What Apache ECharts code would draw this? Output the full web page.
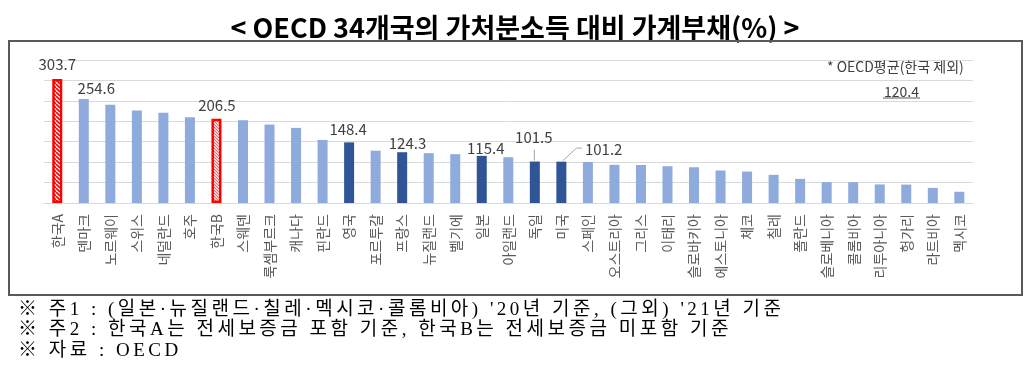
<!DOCTYPE html>
<html><head><meta charset="utf-8">
<script src="https://cdn.jsdelivr.net/npm/echarts@6/dist/echarts.min.js"></script>
<style>
html,body{margin:0;padding:0;background:#fff}
#wrap{position:relative;width:1030px;height:379px}
#c{position:absolute;left:0;top:0;width:1030px;height:379px}
.fn{position:absolute;left:18px;height:20px;line-height:20px;font-size:19px;color:#000;white-space:nowrap;
  font-family:"Liberation Serif","Noto Sans CJK KR",serif;letter-spacing:3.5px}
</style>
</head><body><div id="wrap"><div id="c"></div></div>
<script>
// ---- data ----
const categories = ['한국A','덴마크','노르웨이','스위스','네덜란드','호주','한국B','스웨덴','룩셈부르크','캐나다','핀란드','영국','포르투갈','프랑스','뉴질랜드','벨기에','일본','아일랜드','독일','미국','스페인','오스트리아','그리스','이태리','슬로바키아','에스토니아','체코','칠레','폴란드','슬로베니아','콜롬비아','리투아니아','헝가리','라트비아','멕시코'];
const values = [303.7,254.6,240.2,226.3,220.6,210.0,206.5,202.6,192.0,183.8,154.4,148.4,128.0,124.3,122.0,119.5,115.4,112.0,101.5,101.2,100.5,93.5,93.0,90.0,87.5,79.5,77.0,69.0,59.0,51.0,51.0,45.5,45.0,37.0,27.5];
const darkCategories = ['영국','프랑스','일본','독일','미국'];
const koreaIncl = '한국A';
const koreaExcl = '한국B';
const labelledCategories = ['한국A','덴마크','한국B','영국','프랑스','일본','독일','미국'];
const yMin = 0, yMax = 350, yStep = 50;
const titleText = '< OECD 34개국의 가처분소득 대비 가계부채(%) >';
const avgNote = '* OECD평균(한국 제외)';
const avgValue = '120.4';
const footnotes = [
  "※ 주1 : (일본·뉴질랜드·칠레·멕시코·콜롬비아) '20년 기준, (그외) '21년 기준",
  "※ 주2 : 한국A는 전세보증금 포함 기준, 한국B는 전세보증금 미포함 기준",
  "※ 자료 : OECD"
];

// ---- styles ----
const FONT = '"Noto Sans CJK KR", "Noto Sans", sans-serif';
const LIGHT = '#8FAADC', DARK = '#2F5597', RED = '#FF0000';
const labelOffsets = {
  '한국A':[0,-6], '덴마크':[12.5,-2], '한국B':[0.5,-4.6], '영국':[-1,-4.4],
  '프랑스':[5.3,0.5], '일본':[4,1.4], '독일':[-1,-15.2], '미국':[42.3,-3.3]
};
const footTops = [298.5, 319, 340];
function hatch(color, bg, size, lw){
  const c = document.createElement('canvas'); c.width = c.height = size;
  const g = c.getContext('2d'); g.fillStyle = bg; g.fillRect(0,0,size,size);
  g.strokeStyle = color; g.lineWidth = lw; g.beginPath();
  for (const x0 of [-size,0,size]) { g.moveTo(x0,0); g.lineTo(x0+size,size); }
  g.stroke(); return c;
}
const patA = hatch(RED,'#ffffff',4,1.7);
const patB = hatch('#f06c6c','#fbd3d3',3,1);

const data = categories.map((c,i)=>{
  const item = {value: values[i]};
  if (c === koreaIncl) item.itemStyle = {color:{image:patA,repeat:'repeat'}, borderColor:RED, borderWidth:2.5};
  else if (c === koreaExcl) item.itemStyle = {color:{image:patB,repeat:'repeat'}, borderColor:RED, borderWidth:2.5};
  else if (darkCategories.includes(c)) item.itemStyle = {color:DARK};
  if (labelledCategories.includes(c)) {
    item.label = {show:true, position:'top', distance:0, offset:labelOffsets[c]||[0,0]};
  }
  return item;
});

const chart = echarts.init(document.getElementById('c'));
chart.setOption({
  animation:false,
  textStyle:{fontFamily:FONT},
  title:{text:titleText, left:'center', top:9,
    textStyle:{fontFamily:FONT, fontSize:27, fontWeight:'bold', color:'#000', lineHeight:28}},
  grid:{left:44, right:57.4, top:60, bottom:176, containLabel:false},
  xAxis:{type:'category', data:categories,
    axisLine:{show:true, lineStyle:{color:'#d9d9d9'}}, axisTick:{show:false},
    axisLabel:{rotate:90, interval:0, margin:11, fontSize:14, color:'#595959', fontFamily:FONT}},
  yAxis:{type:'value', min:yMin, max:yMax, interval:yStep,
    axisLabel:{show:false}, axisLine:{show:false}, axisTick:{show:false},
    splitLine:{lineStyle:{color:'#d9d9d9', width:1}}},
  series:[{type:'bar', data:data, barWidth:10, itemStyle:{color:LIGHT},
    label:{show:false, fontSize:15, color:'#404040', fontFamily:FONT, lineHeight:18}}]
});

const pD = chart.convertToPixel({xAxisIndex:0,yAxisIndex:0},['독일', values[categories.indexOf('독일')]]);
const pU = chart.convertToPixel({xAxisIndex:0,yAxisIndex:0},['미국', values[categories.indexOf('미국')]]);
chart.setOption({graphic:[
  {type:'rect', shape:{x:9,y:41,width:1013,height:254}, style:{fill:'none', stroke:'#595959', lineWidth:2}, z:10},
  {type:'polyline', shape:{points:[[pD[0]-0.5,pD[1]-1],[pD[0]-0.5,pD[1]-12]]}, style:{fill:'none', stroke:'#a6a6a6', lineWidth:1}, z:10},
  {type:'polyline', shape:{points:[[pU[0]+1.5,pU[1]-1],[pU[0]+15,pU[1]-13.5],[pU[0]+20.5,pU[1]-13.5]]}, style:{fill:'none', stroke:'#a6a6a6', lineWidth:1}, z:10},
  {type:'text', x:827, y:67, style:{text:avgNote, fill:'#404040', font:'14px '+FONT, align:'left', verticalAlign:'middle', textAlign:'left', textVerticalAlign:'middle'}, z:10},
  {type:'text', x:901.5, y:91.5, style:{text:avgValue, fill:'#404040', font:'14px '+FONT, align:'center', verticalAlign:'middle', textAlign:'center', textVerticalAlign:'middle'}, z:10},
  {type:'line', shape:{x1:883,y1:98,x2:920,y2:98}, style:{stroke:'#595959', lineWidth:1}, z:10}
]});

const wrap = document.getElementById('wrap');
footnotes.forEach((t,i)=>{
  const d = document.createElement('div'); d.className='fn'; d.style.top = footTops[i]+'px';
  d.textContent = t; wrap.appendChild(d);
});
</script></body></html>
